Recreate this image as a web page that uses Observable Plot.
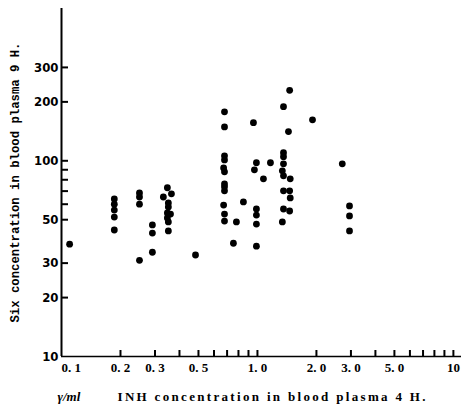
<!DOCTYPE html>
<html>
<head>
<meta charset="utf-8">
<script src="https://cdn.jsdelivr.net/npm/d3@7"></script>
<script src="https://cdn.jsdelivr.net/npm/@observablehq/plot@0.6"></script>
<style>
  html, body { margin: 0; padding: 0; background: #fff; }
  #chart svg { display: block; }
</style>
</head>
<body>
<div id="chart"></div>
<script>
// INH concentration in blood plasma 4 H. (γ/ml)
const inh = [
  0.11,
  0.186, 0.186, 0.186, 0.186, 0.186,
  0.25, 0.25, 0.25, 0.25,
  0.291, 0.291, 0.291,
  0.347, 0.331, 0.364, 0.351, 0.351, 0.347, 0.360, 0.347, 0.351, 0.351,
  0.483,
  0.679, 0.679, 0.679, 0.679, 0.672, 0.679, 0.679, 0.679, 0.679, 0.672, 0.679, 0.679,
  0.781, 0.754, 0.848,
  0.954, 0.988, 0.965, 1.165, 1.073, 0.988, 0.988, 0.988, 0.988,
  1.46, 1.358, 1.44, 1.358, 1.358, 1.358, 1.34, 1.358, 1.47, 1.358, 1.46, 1.47, 1.358, 1.46, 1.34,
  1.91, 2.71, 2.95, 2.95, 2.95
];
// Six concentration in blood plasma 9 H.
const six = [
  37.5,
  63.8, 60, 56, 51.6, 44.3,
  68.5, 65.3, 60, 31,
  47, 42.7, 34.1,
  72.8, 65.3, 67.8, 60.9, 58.1, 54.1, 53.4, 51, 48.7, 43.8,
  33,
  178, 149, 106, 101, 92, 87.8, 76.2, 73.6, 70.2, 59.4, 53.4, 49.2,
  48.7, 37.9, 61.6,
  156.6, 97.7, 89.9, 97.7, 80.9, 56.7, 52.8, 47.5, 36.6,
  229, 189, 141, 110, 105, 96.5, 88.9, 83.8, 80.9, 70.2, 70.2, 64.6, 56.7, 55.4, 48.7,
  162, 96.5, 58.8, 52.3, 43.8
];

const xTickValues = [0.1, 0.2, 0.3, 0.5, 1, 2, 3, 5, 10];
const xTickLabels = ["0. 1", "0. 2", "0. 3", "0. 5", "1. 0", "2. 0", "3. 0", "5. 0", "10"];
const xMinorTicks = [0.2, 0.3, 0.4, 0.5, 0.6, 0.7, 0.8, 0.9, 1, 2, 3, 4, 5, 6, 7, 8, 9, 10];
const yTickValues = [10, 20, 30, 50, 100, 200, 300];
const yTickLabels = ["10", "20", "30", "50", "100", "200", "300"];
const yMinorTicks = [20, 30, 50, 60, 70, 80, 90, 100, 200, 300];

const yTitle = "Six concentration in blood plasma 9 H.";
const xUnit = "γ/ml";
const xTitle = "INH concentration in blood plasma 4 H.";

const xBase = xTickValues[0];
const yBase = yTickValues[0];
const points = inh.map((x, i) => ({x, y: six[i]}));
const xLabelRows = xTickValues.map((v, i) => ({v, label: xTickLabels[i]}));
const yLabelRows = yTickValues.map((v, i) => ({v, label: yTickLabels[i]}));

const serif = "'Liberation Serif', 'DejaVu Serif', serif";
const narrow = "'Liberation Sans Narrow', 'DejaVu Sans Condensed', 'Liberation Sans', sans-serif";
const mono = "'Liberation Mono', 'DejaVu Sans Mono', monospace";

const W = 461, H = 409;
const M = {left: 61, right: 0, top: 8, bottom: 53};
const frameW = W - M.left - M.right;
const frameH = H - M.top - M.bottom;
const xTickLen = 6, yTickLen = 7;

const chart = Plot.plot({
  width: W,
  height: H,
  marginLeft: M.left,
  marginRight: M.right,
  marginTop: M.top,
  marginBottom: M.bottom,
  x: {type: "log", domain: [0.1, 11], axis: null},
  y: {type: "log", domain: [10, 600], axis: null},
  style: {background: "#fff", color: "#000"},
  marks: [
    // inward tick marks
    Plot.tickX(xMinorTicks, {x: d => d, insetTop: frameH - xTickLen, stroke: "#000", strokeWidth: 2}),
    Plot.tickY(yMinorTicks, {y: d => d, insetRight: frameW - yTickLen, stroke: "#000", strokeWidth: 2}),
    Plot.ruleX([xBase], {stroke: "#000", strokeWidth: 2}),
    Plot.ruleY([yBase], {stroke: "#000", strokeWidth: 1.6}),
    // tick labels
    Plot.text(xLabelRows.slice(1), {
      x: "v", text: "label", frameAnchor: "bottom", lineAnchor: "top", dy: 6,
      fontSize: 13, fontWeight: "bold", fontFamily: serif
    }),
    Plot.text(xLabelRows.slice(0, 1), {
      x: "v", text: "label", frameAnchor: "bottom", lineAnchor: "top", dy: 6,
      textAnchor: "start", fontSize: 13, fontWeight: "bold", fontFamily: serif
    }),
    Plot.text(yLabelRows, {
      y: "v", text: "label", frameAnchor: "left", textAnchor: "end", dx: -3,
      fontSize: 13, fontWeight: "bold", fontFamily: narrow
    }),
    Plot.dot(points, {x: "x", y: "y", r: 3.4, fill: "#000", stroke: null}),
    Plot.text([yTitle], {
      text: d => d, frameAnchor: "bottom-left", textAnchor: "start", rotate: -90, dx: -43, dy: -34,
      fontSize: 12.3, fontFamily: mono, fontWeight: "bold"
    }),
    Plot.text([xUnit], {
      text: d => d, frameAnchor: "bottom-left", textAnchor: "start", dx: -4, dy: 44,
      fontSize: 13, fontFamily: serif, fontStyle: "italic", fontWeight: "bold"
    }),
    Plot.text([xTitle], {
      text: d => d, frameAnchor: "bottom-left", textAnchor: "start", dx: 56, dy: 44,
      fontSize: 13, fontFamily: serif, fontWeight: "bold"
    })
  ]
});

document.getElementById("chart").appendChild(chart);

// widen the printed spacing of the axis titles
chart.querySelectorAll("text").forEach(t => {
  if (t.textContent === xTitle) {
    t.setAttribute("textLength", 308);
    t.setAttribute("lengthAdjust", "spacing");
  }
  if (t.textContent === yTitle) {
    t.setAttribute("textLength", 280);
    t.setAttribute("lengthAdjust", "spacing");
  }
});
</script>
</body>
</html>
